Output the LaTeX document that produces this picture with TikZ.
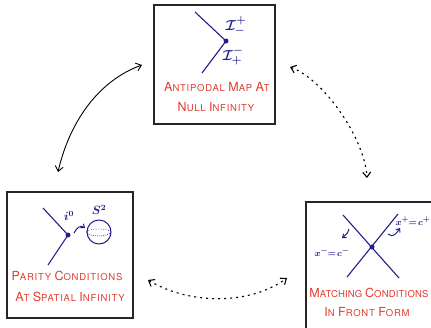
\documentclass[tikz,border=0pt]{standalone}
\usepackage{fontspec}
\usetikzlibrary{arrows.meta}
\newfontfamily\handfont{TeX Gyre Heros}[LetterSpace=8]
\definecolor{navy}{RGB}{35,30,140}
\definecolor{hred}{RGB}{225,60,45}
\newcommand{\Bg}[1]{{\fontsize{12.5}{13}\selectfont #1}}
\tikzset{
  panel/.style={draw=black!85, line width=1.2pt, inner sep=0pt, fill=white},
  wline/.style={draw=navy, line width=1.1pt},
  dotc/.style={circle, fill=navy, inner sep=0pt, minimum size=5pt},
  lbl/.style={text=hred, font=\handfont\fontsize{9.5}{10}\selectfont, inner sep=0pt},
  mlbl/.style={text=navy, inner sep=0pt},
  conn/.style={draw=black, line width=0.9pt, {Straight Barb[length=5pt,width=8pt]}-{Straight Barb[length=5pt,width=8pt]}},
  dconn/.style={conn, dash pattern=on 2pt off 4pt, line width=1.1pt},
  sarr/.style={draw=navy, line width=1pt, -{Straight Barb[length=3pt,width=5pt]}}
}
\begin{document}
\begin{tikzpicture}[x=1pt,y=-1pt]
\useasboundingbox (0,0) rectangle (431,327);
\clip (0,0) rectangle (431,327);
\fill[white] (0,0) rectangle (431,327);
% panels
\node[panel, minimum width=121pt, minimum height=119pt] (top) at (214.5,64.5) {};
\node[panel, minimum width=126pt, minimum height=126pt] (left) at (70,255) {};
\node[panel, minimum width=134pt, minimum height=133pt] (right) at (373,268.5) {};
% top panel contents
\coordinate (t1) at (195,12);
\coordinate (t3) at (202,73);
\node[dotc] (tc) at (226,41) {};
\draw[wline] (t1) -- (tc.center) -- (t3);
\node[mlbl, font=\fontsize{15}{16}\selectfont\boldmath] (scrip) at (236,26) {$\mathcal{I}^{+}_{-}$};
\node[mlbl, font=\fontsize{15}{16}\selectfont\boldmath] (scrim) at (233,56) {$\mathcal{I}^{-}_{+}$};
\node[lbl] (tl1) at (217,87) {\Bg{A}NTIPODAL \Bg{M}AP \Bg{A}T};
\node[lbl] (tl2) at (216,107) {\Bg{N}ULL \Bg{I}NFINITY};
% left panel contents
\coordinate (l1) at (43,208);
\coordinate (l3) at (48,265);
\node[dotc] (lc) at (68,235) {};
\draw[wline] (l1) -- (lc.center) -- (l3);
\node[mlbl, font=\fontsize{12}{12}\selectfont\boldmath] (izero) at (69,216) {$i^0$};
\node[circle, draw=navy, line width=1pt, minimum size=24pt, inner sep=0pt] (sph) at (99,232) {};
\draw[navy, line width=0.5pt, dash pattern=on 1pt off 1pt] (sph.west) arc[start angle=180, end angle=360, x radius=12pt, y radius=4pt];
\draw[navy, line width=0.4pt, dash pattern=on 1pt off 1.5pt] (sph.west) arc[start angle=180, end angle=0, x radius=12pt, y radius=3pt];
\node[mlbl, font=\fontsize{12}{12}\selectfont\boldmath] (stwo) at (99,210) {$S^2$};
\coordinate (la0) at (74,233);
\coordinate (la1) at (85,228);
\draw[sarr] (la0) .. controls (77,227) and (81,225) .. (la1);
\node[lbl] (ll1) at (67,276) {\Bg{P}ARITY \Bg{C}ONDITIONS};
\node[lbl] (ll2) at (70,297) {\Bg{A}T \Bg{S}PATIAL \Bg{I}NFINITY};
% right panel contents
\coordinate (r1) at (343,215);
\coordinate (r2) at (399,278);
\coordinate (r3) at (398,214);
\coordinate (r4) at (347,277);
\node[dotc] (rc) at (372,247) {};
\draw[wline] (r1) -- (r2);
\draw[wline] (r3) -- (r4);
\node[mlbl, font=\fontsize{9.5}{12}\selectfont\boldmath] (xp) at (413,221) {$x^{+}\!\!=\!c^{+}$};
\node[mlbl, font=\fontsize{9.5}{12}\selectfont\boldmath] (xm) at (332,252) {$x^{-}\!\!=\!c^{-}$};
\coordinate (ra0) at (388,234);
\coordinate (ra1) at (400,228);
\draw[sarr] (ra0) .. controls (393,238) and (396,234) .. (ra1);
\coordinate (rb0) at (349,229);
\coordinate (rb1) at (342,238);
\draw[sarr] (rb0) .. controls (348,233) and (346,235) .. (rb1);
\node[lbl, font=\handfont\addfontfeature{LetterSpace=2}\fontsize{9.5}{10}\selectfont] (rl1) at (369,293) {\Bg{M}ATCHING \Bg{C}ONDITIONS};
\node[lbl] (rl2) at (367,312) {\Bg{I}N \Bg{F}RONT \Bg{F}ORM};
% connectors
\coordinate (a1) at (58,172);
\coordinate (a2) at (142,65);
\draw[conn] (a1) .. controls (70,120) and (100,80) .. (a2);
\coordinate (b1) at (290,67);
\coordinate (b2) at (367,178);
\draw[dconn] (b1) .. controls (325,80) and (365,140) .. (b2);
\coordinate (c1) at (148,280);
\coordinate (c2) at (287,278);
\draw[dconn] (c1) .. controls (190,305) and (250,305) .. (c2);
\end{tikzpicture}
\end{document}
